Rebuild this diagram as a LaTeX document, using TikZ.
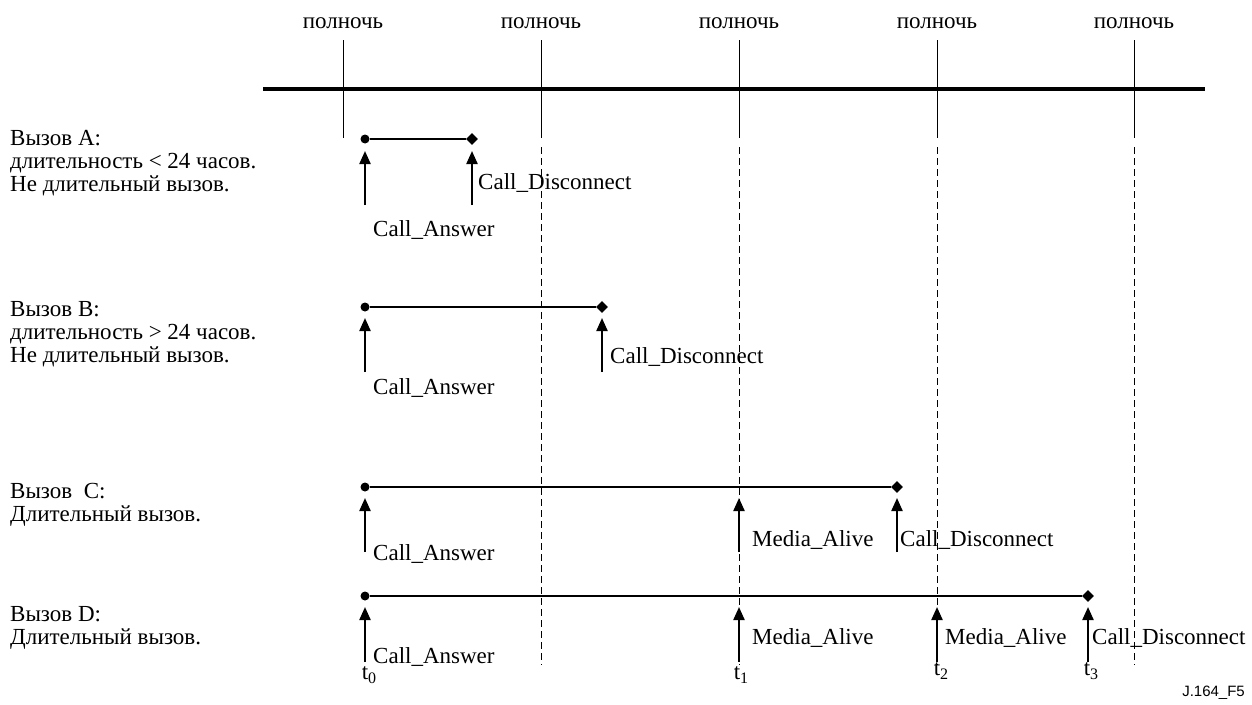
\documentclass[tikz,border=0pt]{standalone}
\usepackage{fontspec}
\setmainfont{Liberation Serif}
\newfontfamily\labelsans{Liberation Sans}
\usetikzlibrary{arrows.meta,shapes.geometric}
\newcommand{\tsub}[1]{t\raisebox{-0.45ex}{\fontsize{16}{16}\selectfont #1}}
\begin{document}
\begin{tikzpicture}[x=1pt,y=-1pt,
  every node/.style={inner sep=0pt,font=\fontsize{23}{23}\selectfont},
  lbl/.style={anchor=west},
  midline/.style={line width=1pt},
  dashline/.style={line width=1pt,dash pattern=on 7pt off 4pt},
  callline/.style={line width=2pt},
  evarrow/.style={line width=2.2pt,-{Triangle[length=13pt,width=11pt]}},
  startdot/.style={circle,fill=black,minimum size=9pt},
  enddiamond/.style={diamond,fill=black,minimum width=12pt,minimum height=12pt},
  tlab/.style={anchor=north}]
\useasboundingbox (0,0) rectangle (1252,704);
% time axis
\coordinate (axL) at (263,89);
\coordinate (axR) at (1205,89);
\draw[line width=4pt] (axL) -- (axR);
% midnights
\foreach \i/\x in {1/343,2/541,3/739,4/937,5/1134}{
  \node (mn\i) at (\x,23) {полночь};
  \coordinate (mt\i) at (\x,40);
  \coordinate (mb\i) at (\x,138);
  \draw[midline] (mt\i) -- (mb\i);
}
\foreach \i/\x/\e in {2/541/665,3/739/665,4/937/665,5/1134/665}{
  \coordinate (ds\i) at (\x,147);
  \coordinate (de\i) at (\x,\e);
  \draw[dashline] (ds\i) -- (de\i);
}
% left labels
\node[lbl,anchor=north west,align=left] (la) at (10,130) {Вызов A:\\длительность < 24 часов.\\Не длительный вызов.};
\node[lbl,anchor=north west,align=left] (lb) at (10,301) {Вызов B:\\длительность > 24 часов.\\Не длительный вызов.};
\node[lbl,anchor=north west,align=left] (lc) at (10,483) {Вызов\ \ C:\\Длительный вызов.};
\node[lbl,anchor=north west,align=left] (ld) at (10,606) {Вызов D:\\Длительный вызов.};
% Call A
\node[startdot] (as) at (365,139) {};
\node[enddiamond] (ae) at (472,139) {};
\draw[callline] (as) -- (ae);
\coordinate (aa1) at (365,205); \coordinate (aa1t) at (365,151);
\coordinate (aa2) at (472,205); \coordinate (aa2t) at (472,151);
\draw[evarrow] (aa1) -- (aa1t);
\draw[evarrow] (aa2) -- (aa2t);
\node[lbl] (acd) at (478,183) {Call\_Disconnect};
\node[lbl] (aca) at (373,230) {Call\_Answer};
% Call B
\node[startdot] (bs) at (365,307) {};
\node[enddiamond] (be) at (602,307) {};
\draw[callline] (bs) -- (be);
\coordinate (ba1) at (365,372); \coordinate (ba1t) at (365,318);
\coordinate (ba2) at (602,372); \coordinate (ba2t) at (602,318);
\draw[evarrow] (ba1) -- (ba1t);
\draw[evarrow] (ba2) -- (ba2t);
\node[lbl] (bcd) at (610,357) {Call\_Disconnect};
\node[lbl] (bca) at (373,388) {Call\_Answer};
% Call C
\node[startdot] (cs) at (365,487) {};
\node[enddiamond] (ce) at (897,487) {};
\draw[callline] (cs) -- (ce);
\coordinate (ca1) at (365,552); \coordinate (ca1t) at (365,498);
\coordinate (ca2) at (739,552); \coordinate (ca2t) at (739,498);
\coordinate (ca3) at (897,552); \coordinate (ca3t) at (897,498);
\draw[evarrow] (ca1) -- (ca1t);
\draw[evarrow] (ca2) -- (ca2t);
\draw[evarrow] (ca3) -- (ca3t);
\node[lbl] (cca) at (373,554) {Call\_Answer};
\node[lbl] (cma) at (752,540) {Media\_Alive};
\node[lbl] (ccd) at (900,540) {Call\_Disconnect};
% Call D
\node[startdot] (ds) at (365,596) {};
\node[enddiamond] (dend) at (1088,596) {};
\draw[callline] (ds) -- (dend);
\coordinate (da1) at (365,662); \coordinate (da1t) at (365,607);
\coordinate (da2) at (739,662); \coordinate (da2t) at (739,607);
\coordinate (da3) at (937,662); \coordinate (da3t) at (937,607);
\coordinate (da4) at (1088,662); \coordinate (da4t) at (1088,607);
\draw[evarrow] (da1) -- (da1t);
\draw[evarrow] (da2) -- (da2t);
\draw[evarrow] (da3) -- (da3t);
\draw[evarrow] (da4) -- (da4t);
\node[lbl] (dca) at (373,657) {Call\_Answer};
\node[lbl] (dma1) at (752,638) {Media\_Alive};
\node[lbl] (dma2) at (945,638) {Media\_Alive};
\node[lbl] (dcd) at (1092,638) {Call\_Disconnect};
\node[tlab] (t0) at (369,666) {\tsub{0}};
\node[tlab] (t1) at (741,666) {\tsub{1}};
\node[tlab] (t2) at (941,662) {\tsub{2}};
\node[tlab] (t3) at (1091,662) {\tsub{3}};
\node[anchor=south east,font=\labelsans\fontsize{15}{15}\selectfont] (fig) at (1245,700) {J.164\_F5};
\end{tikzpicture}
\end{document}
